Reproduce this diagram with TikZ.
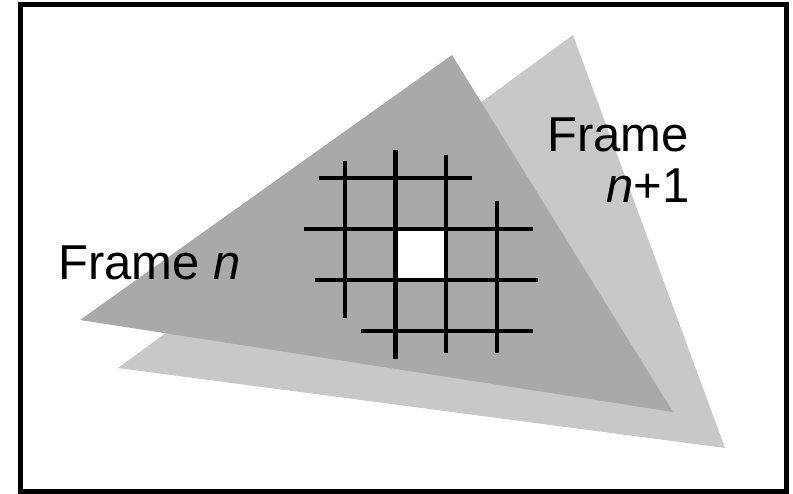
\documentclass[tikz,border=0pt]{standalone}
\usepackage{fontspec}
\setmainfont{Liberation Sans}
\definecolor{frameA}{HTML}{A9A9A9}
\definecolor{frameB}{HTML}{C8C8C8}
\tikzset{
  gridline/.style={line width=4.8pt, black},
  lbl/.style={inner sep=0pt, anchor=base west, font=\fontsize{49}{59}\selectfont},
}
\begin{document}
\begin{tikzpicture}[x=1pt,y=-1pt]
\useasboundingbox (0,0) rectangle (793,494);
% Frame n+1 (light)
\fill[frameB] (573,35) -- (725,448) -- (118,368) -- cycle;
% Frame n (dark)
\fill[frameA] (452,55) -- (673,412) -- (80,320) -- cycle;
% white cell
\fill[white] (395.5,229) rectangle (446,280);
% grid vertical
\draw[gridline] (345,161) -- (345,318);
\draw[gridline] (395.5,150) -- (395.5,359);
\draw[gridline] (446,155) -- (446,353);
\draw[gridline] (497,201) -- (497,353);
% grid horizontal
\draw[gridline] (319,178) -- (472,178);
\draw[gridline] (304,229) -- (533,229);
\draw[gridline] (315,280) -- (538,280);
\draw[gridline] (361,331) -- (533,331);
% labels
\node[lbl] (fn) at (58,280) {Frame \textit{n}};
\node[lbl] (fn1a) at (547,152) {Frame};
\node[lbl] (fn1b) at (606,203) {\textit{n}+1};
% border
\draw[line width=5pt] (20.5,5) rectangle (786.5,491.5);
\end{tikzpicture}
\end{document}
